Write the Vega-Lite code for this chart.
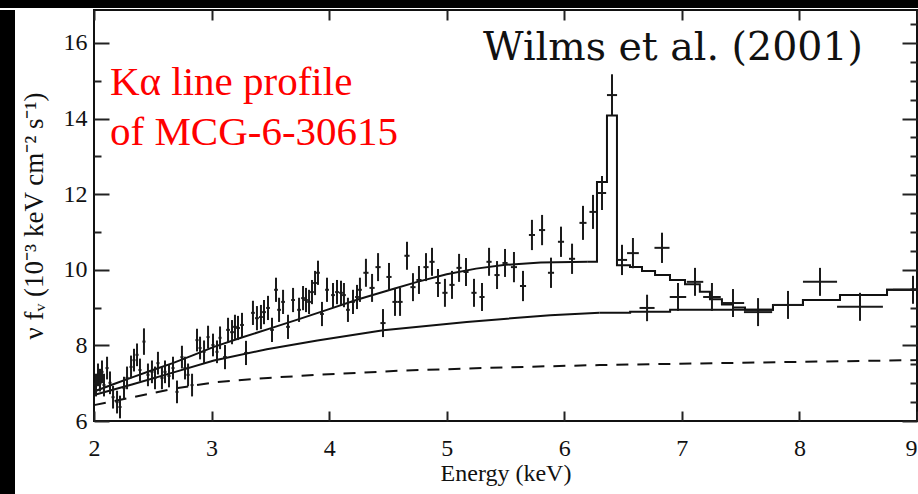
{
  "$schema": "https://vega.github.io/schema/vega-lite/v6.json",
  "padding": 0,
  "background": "white",
  "spacing": 2,
  "bounds": "flush",
  "config": {
    "view": {"stroke": null, "fill": "white"},
    "font": "Liberation Serif",
    "axis": {"grid": false, "domain": false, "tickColor": "#222", "tickWidth": 2, "labelColor": "#111", "titleColor": "#111", "labelFont": "Liberation Serif", "titleFont": "Liberation Serif", "titleFontWeight": "normal", "labelFontSize": 24, "titleFontSize": 25}
  },
  "datasets": {
    "dash": [
      {"E": 2.0, "F": 6.42}, {"E": 2.33, "F": 6.63}, {"E": 2.67, "F": 6.85}, {"E": 3.02, "F": 7.02},
      {"E": 3.48, "F": 7.14}, {"E": 3.9, "F": 7.22}, {"E": 4.6, "F": 7.33}, {"E": 5.5, "F": 7.42},
      {"E": 6.3, "F": 7.48}, {"E": 7.5, "F": 7.54}, {"E": 9.0, "F": 7.61}
    ],
    "contSmooth": [
      {"E": 2.0, "F": 6.69}, {"E": 2.33, "F": 6.97}, {"E": 2.67, "F": 7.28}, {"E": 3.02, "F": 7.6},
      {"E": 3.47, "F": 7.9}, {"E": 3.9, "F": 8.13}, {"E": 4.46, "F": 8.4}, {"E": 5.17, "F": 8.62},
      {"E": 5.88, "F": 8.8}, {"E": 6.3, "F": 8.86}
    ],
    "contStep": [
      {"E": 6.3, "F": 8.86}, {"E": 6.56, "F": 8.89}, {"E": 6.9, "F": 8.94}, {"E": 7.775, "F": 9.07},
      {"E": 8.03, "F": 9.2}, {"E": 8.345, "F": 9.33}, {"E": 8.745, "F": 9.47}, {"E": 9.0, "F": 9.47}
    ],
    "totSmooth": [
      {"E": 2.0, "F": 6.78}, {"E": 2.17, "F": 6.98}, {"E": 2.33, "F": 7.16}, {"E": 2.5, "F": 7.35},
      {"E": 2.67, "F": 7.53}, {"E": 2.85, "F": 7.75}, {"E": 3.02, "F": 7.96}, {"E": 3.25, "F": 8.2},
      {"E": 3.5, "F": 8.45}, {"E": 3.75, "F": 8.7}, {"E": 4.0, "F": 8.96}, {"E": 4.25, "F": 9.22},
      {"E": 4.5, "F": 9.45}, {"E": 4.75, "F": 9.68}, {"E": 5.0, "F": 9.88}, {"E": 5.25, "F": 10.03},
      {"E": 5.5, "F": 10.13}, {"E": 5.8, "F": 10.19}, {"E": 6.2, "F": 10.21}
    ],
    "totStep": [
      {"E": 6.2, "F": 10.21}, {"E": 6.278, "F": 12.32}, {"E": 6.363, "F": 14.08}, {"E": 6.448, "F": 10.12},
      {"E": 6.559, "F": 10.07}, {"E": 6.661, "F": 9.97}, {"E": 6.772, "F": 9.86}, {"E": 6.899, "F": 9.73},
      {"E": 7.027, "F": 9.62}, {"E": 7.153, "F": 9.42}, {"E": 7.239, "F": 9.22}, {"E": 7.341, "F": 9.08},
      {"E": 7.435, "F": 9.0}, {"E": 7.537, "F": 8.94}, {"E": 7.775, "F": 9.07}, {"E": 8.03, "F": 9.2},
      {"E": 8.345, "F": 9.33}, {"E": 8.745, "F": 9.47}, {"E": 9.0, "F": 9.47}
    ],
    "pts": [
      {"E": 2.017, "F": 6.95, "dE": 0.013, "dF": 0.3}, {"E": 2.034, "F": 7.22, "dE": 0.013, "dF": 0.3},
      {"E": 2.051, "F": 7.08, "dE": 0.013, "dF": 0.3}, {"E": 2.068, "F": 7.30, "dE": 0.013, "dF": 0.3},
      {"E": 2.085, "F": 6.95, "dE": 0.013, "dF": 0.3}, {"E": 2.111, "F": 7.40, "dE": 0.013, "dF": 0.3},
      {"E": 2.136, "F": 7.01, "dE": 0.013, "dF": 0.3}, {"E": 2.162, "F": 6.63, "dE": 0.013, "dF": 0.3},
      {"E": 2.196, "F": 6.50, "dE": 0.013, "dF": 0.3}, {"E": 2.221, "F": 6.37, "dE": 0.013, "dF": 0.3},
      {"E": 2.255, "F": 6.87, "dE": 0.013, "dF": 0.3}, {"E": 2.281, "F": 7.14, "dE": 0.013, "dF": 0.3},
      {"E": 2.315, "F": 7.43, "dE": 0.013, "dF": 0.3}, {"E": 2.340, "F": 7.61, "dE": 0.013, "dF": 0.3},
      {"E": 2.366, "F": 7.75, "dE": 0.013, "dF": 0.3}, {"E": 2.391, "F": 7.35, "dE": 0.013, "dF": 0.3},
      {"E": 2.425, "F": 8.10, "dE": 0.013, "dF": 0.35}, {"E": 2.459, "F": 7.22, "dE": 0.013, "dF": 0.3},
      {"E": 2.493, "F": 7.30, "dE": 0.013, "dF": 0.3}, {"E": 2.519, "F": 7.14, "dE": 0.013, "dF": 0.3},
      {"E": 2.544, "F": 7.53, "dE": 0.013, "dF": 0.3}, {"E": 2.578, "F": 7.14, "dE": 0.013, "dF": 0.3},
      {"E": 2.604, "F": 7.30, "dE": 0.013, "dF": 0.3}, {"E": 2.638, "F": 7.19, "dE": 0.013, "dF": 0.3},
      {"E": 2.672, "F": 7.40, "dE": 0.013, "dF": 0.3}, {"E": 2.706, "F": 6.77, "dE": 0.013, "dF": 0.3},
      {"E": 2.748, "F": 7.69, "dE": 0.013, "dF": 0.3}, {"E": 2.774, "F": 7.40, "dE": 0.013, "dF": 0.3},
      {"E": 2.800, "F": 7.22, "dE": 0.013, "dF": 0.3}, {"E": 2.834, "F": 6.95, "dE": 0.013, "dF": 0.3},
      {"E": 2.876, "F": 8.14, "dE": 0.013, "dF": 0.3}, {"E": 2.902, "F": 7.93, "dE": 0.013, "dF": 0.3},
      {"E": 2.936, "F": 7.83, "dE": 0.013, "dF": 0.3}, {"E": 2.970, "F": 8.22, "dE": 0.013, "dF": 0.3},
      {"E": 3.012, "F": 8.01, "dE": 0.013, "dF": 0.3}, {"E": 3.046, "F": 7.83, "dE": 0.013, "dF": 0.3},
      {"E": 3.072, "F": 8.20, "dE": 0.013, "dF": 0.3},
      {"E": 3.114, "F": 7.69, "dE": 0.016, "dF": 0.32}, {"E": 3.140, "F": 8.41, "dE": 0.016, "dF": 0.32},
      {"E": 3.174, "F": 8.35, "dE": 0.016, "dF": 0.32}, {"E": 3.199, "F": 8.49, "dE": 0.016, "dF": 0.32},
      {"E": 3.225, "F": 8.46, "dE": 0.016, "dF": 0.32}, {"E": 3.259, "F": 8.54, "dE": 0.016, "dF": 0.32},
      {"E": 3.293, "F": 7.80, "dE": 0.016, "dF": 0.32}, {"E": 3.352, "F": 8.86, "dE": 0.016, "dF": 0.32},
      {"E": 3.386, "F": 8.72, "dE": 0.016, "dF": 0.32}, {"E": 3.420, "F": 8.75, "dE": 0.016, "dF": 0.32},
      {"E": 3.446, "F": 8.88, "dE": 0.016, "dF": 0.32}, {"E": 3.480, "F": 8.99, "dE": 0.016, "dF": 0.32},
      {"E": 3.514, "F": 8.41, "dE": 0.016, "dF": 0.32}, {"E": 3.548, "F": 9.47, "dE": 0.016, "dF": 0.32},
      {"E": 3.574, "F": 8.94, "dE": 0.016, "dF": 0.32}, {"E": 3.608, "F": 9.15, "dE": 0.016, "dF": 0.32},
      {"E": 3.650, "F": 8.49, "dE": 0.016, "dF": 0.32}, {"E": 3.693, "F": 9.20, "dE": 0.016, "dF": 0.32},
      {"E": 3.744, "F": 8.94, "dE": 0.016, "dF": 0.32}, {"E": 3.778, "F": 9.25, "dE": 0.016, "dF": 0.32},
      {"E": 3.803, "F": 9.20, "dE": 0.016, "dF": 0.32}, {"E": 3.829, "F": 9.15, "dE": 0.016, "dF": 0.32},
      {"E": 3.854, "F": 9.41, "dE": 0.016, "dF": 0.32}, {"E": 3.880, "F": 9.65, "dE": 0.016, "dF": 0.32},
      {"E": 3.905, "F": 9.92, "dE": 0.016, "dF": 0.32}, {"E": 3.939, "F": 8.83, "dE": 0.016, "dF": 0.32},
      {"E": 3.982, "F": 9.47, "dE": 0.016, "dF": 0.32}, {"E": 4.033, "F": 9.33, "dE": 0.016, "dF": 0.32},
      {"E": 4.067, "F": 9.41, "dE": 0.016, "dF": 0.32}, {"E": 4.101, "F": 9.39, "dE": 0.016, "dF": 0.32},
      {"E": 4.126, "F": 9.33, "dE": 0.016, "dF": 0.32}, {"E": 4.160, "F": 8.94, "dE": 0.016, "dF": 0.32},
      {"E": 4.203, "F": 9.15, "dE": 0.016, "dF": 0.32}, {"E": 4.237, "F": 9.28, "dE": 0.016, "dF": 0.32},
      {"E": 4.262, "F": 9.47, "dE": 0.016, "dF": 0.32},
      {"E": 4.313, "F": 9.92, "dE": 0.022, "dF": 0.37}, {"E": 4.365, "F": 9.52, "dE": 0.022, "dF": 0.37},
      {"E": 4.416, "F": 10.07, "dE": 0.022, "dF": 0.37}, {"E": 4.458, "F": 8.59, "dE": 0.022, "dF": 0.37},
      {"E": 4.509, "F": 9.81, "dE": 0.022, "dF": 0.37}, {"E": 4.560, "F": 9.15, "dE": 0.022, "dF": 0.37},
      {"E": 4.603, "F": 9.15, "dE": 0.022, "dF": 0.37}, {"E": 4.662, "F": 10.37, "dE": 0.022, "dF": 0.37},
      {"E": 4.713, "F": 9.54, "dE": 0.022, "dF": 0.37}, {"E": 4.764, "F": 9.73, "dE": 0.022, "dF": 0.37},
      {"E": 4.824, "F": 10.07, "dE": 0.022, "dF": 0.37}, {"E": 4.875, "F": 10.21, "dE": 0.022, "dF": 0.37},
      {"E": 4.926, "F": 9.65, "dE": 0.022, "dF": 0.37}, {"E": 4.985, "F": 9.39, "dE": 0.022, "dF": 0.37},
      {"E": 5.045, "F": 9.60, "dE": 0.022, "dF": 0.37}, {"E": 5.105, "F": 10.05, "dE": 0.022, "dF": 0.37},
      {"E": 5.164, "F": 9.94, "dE": 0.022, "dF": 0.37}, {"E": 5.232, "F": 9.39, "dE": 0.022, "dF": 0.37},
      {"E": 5.300, "F": 9.28, "dE": 0.022, "dF": 0.37}, {"E": 5.360, "F": 10.21, "dE": 0.022, "dF": 0.37},
      {"E": 5.428, "F": 9.86, "dE": 0.022, "dF": 0.37}, {"E": 5.496, "F": 10.18, "dE": 0.022, "dF": 0.37},
      {"E": 5.572, "F": 10.07, "dE": 0.026, "dF": 0.4}, {"E": 5.649, "F": 9.57, "dE": 0.026, "dF": 0.4},
      {"E": 5.725, "F": 10.92, "dE": 0.026, "dF": 0.4}, {"E": 5.811, "F": 11.05, "dE": 0.026, "dF": 0.4},
      {"E": 5.887, "F": 9.92, "dE": 0.026, "dF": 0.4}, {"E": 5.972, "F": 10.74, "dE": 0.026, "dF": 0.4},
      {"E": 6.066, "F": 10.29, "dE": 0.026, "dF": 0.4}, {"E": 6.159, "F": 11.24, "dE": 0.03, "dF": 0.45},
      {"E": 6.244, "F": 11.53, "dE": 0.03, "dF": 0.45}, {"E": 6.321, "F": 12.03, "dE": 0.035, "dF": 0.45},
      {"E": 6.406, "F": 14.62, "dE": 0.043, "dF": 0.55}, {"E": 6.491, "F": 10.26, "dE": 0.043, "dF": 0.4},
      {"E": 6.584, "F": 10.44, "dE": 0.05, "dF": 0.4}, {"E": 6.704, "F": 8.99, "dE": 0.064, "dF": 0.35},
      {"E": 6.831, "F": 10.58, "dE": 0.064, "dF": 0.4}, {"E": 6.967, "F": 9.28, "dE": 0.07, "dF": 0.37},
      {"E": 7.112, "F": 9.68, "dE": 0.07, "dF": 0.37}, {"E": 7.256, "F": 9.28, "dE": 0.075, "dF": 0.37},
      {"E": 7.435, "F": 9.12, "dE": 0.095, "dF": 0.37}, {"E": 7.648, "F": 8.88, "dE": 0.12, "dF": 0.37},
      {"E": 7.903, "F": 9.07, "dE": 0.13, "dF": 0.37}, {"E": 8.175, "F": 9.68, "dE": 0.145, "dF": 0.37},
      {"E": 8.515, "F": 9.02, "dE": 0.195, "dF": 0.37}, {"E": 8.966, "F": 9.47, "dE": 0.17, "dF": 0.37}
    ]
  },
  "vconcat": [
    {
      "width": 918,
      "height": 8,
      "view": {"fill": "black", "stroke": null},
      "data": {"values": []},
      "mark": "rect"
    },
    {
      "spacing": 79,
      "bounds": "flush",
      "hconcat": [
        {
          "width": 15,
          "height": 484,
          "view": {"fill": "black", "stroke": null},
          "data": {"values": []},
          "mark": "rect"
        },
        {
          "width": 823,
          "height": 411,
          "view": {"stroke": "#111", "strokeWidth": 2, "fill": "white"},
          "layer": [
            {
              "data": {"name": "dash"},
              "mark": {"type": "line", "color": "#111", "strokeWidth": 2, "strokeDash": [12, 9]},
              "encoding": {
                "x": {"field": "E", "type": "quantitative", "scale": {"domain": [2, 9], "nice": false, "zero": false, "clamp": true},
                  "axis": {"orient": "bottom", "values": [2, 3, 4, 5, 6, 7, 8, 9], "format": "d", "tickSize": -10, "labelPadding": 25,
                    "labelAlign": {"condition": {"test": "datum.value == 9", "value": "right"}, "value": "center"},
                    "title": "Energy (keV)", "titleFontSize": 24, "titlePadding": 1}},
                "y": {"field": "F", "type": "quantitative", "scale": {"domain": [6, 16.87], "nice": false, "zero": false, "clamp": true},
                  "axis": {"orient": "left", "values": [6, 6.5, 7, 7.5, 8, 8.5, 9, 9.5, 10, 10.5, 11, 11.5, 12, 12.5, 13, 13.5, 14, 14.5, 15, 15.5, 16, 16.5],
                    "format": "d", "labelExpr": "datum.value % 2 == 0 ? datum.label : ''",
                    "tickSize": {"condition": {"test": "datum.value % 2 == 0", "value": -15}, "value": -7},
                    "labelPadding": 22, "title": "ν fᵥ (10⁻³ keV cm⁻² s⁻¹)", "titleFontSize": 27, "titlePadding": 15}}
              }
            },
            {
              "data": {"name": "contSmooth"},
              "mark": {"type": "line", "color": "#111", "strokeWidth": 2},
              "encoding": {
                "x": {"field": "E", "type": "quantitative",
                  "axis": {"orient": "top", "values": [2, 3, 4, 5, 6, 7, 8, 9], "labels": false, "tickSize": -10, "title": null}},
                "y": {"field": "F", "type": "quantitative",
                  "axis": {"orient": "right", "values": [6, 6.5, 7, 7.5, 8, 8.5, 9, 9.5, 10, 10.5, 11, 11.5, 12, 12.5, 13, 13.5, 14, 14.5, 15, 15.5, 16, 16.5],
                    "labels": false, "tickSize": {"condition": {"test": "datum.value % 2 == 0", "value": -15}, "value": -7}, "title": null}}
              }
            },
            {
              "data": {"name": "contStep"},
              "mark": {"type": "line", "color": "#111", "strokeWidth": 2, "interpolate": "step-after"},
              "encoding": {
                "x": {"field": "E", "type": "quantitative", "axis": null},
                "y": {"field": "F", "type": "quantitative", "axis": null}
              }
            },
            {
              "data": {"name": "totSmooth"},
              "mark": {"type": "line", "color": "#111", "strokeWidth": 2},
              "encoding": {
                "x": {"field": "E", "type": "quantitative", "axis": null},
                "y": {"field": "F", "type": "quantitative", "axis": null}
              }
            },
            {
              "data": {"name": "totStep"},
              "mark": {"type": "line", "color": "#111", "strokeWidth": 2, "interpolate": "step-after"},
              "encoding": {
                "x": {"field": "E", "type": "quantitative", "axis": null},
                "y": {"field": "F", "type": "quantitative", "axis": null}
              }
            },
            {
              "data": {"name": "pts"},
              "mark": {"type": "errorbar", "color": "#1a1a1a", "thickness": 2},
              "encoding": {
                "x": {"field": "E", "type": "quantitative", "axis": null},
                "y": {"field": "F", "type": "quantitative", "axis": null},
                "yError": {"field": "dF"}
              }
            },
            {
              "data": {"name": "pts"},
              "mark": {"type": "errorbar", "color": "#1a1a1a", "thickness": 2},
              "encoding": {
                "x": {"field": "E", "type": "quantitative", "axis": null},
                "xError": {"field": "dE"},
                "y": {"field": "F", "type": "quantitative", "axis": null}
              }
            },
            {
              "data": {"values": [{"E": 2.136, "F": 14.62, "t": "Kα line profile"}, {"E": 2.136, "F": 13.3, "t": "of MCG-6-30615"}]},
              "mark": {"type": "text", "color": "#ff0000", "font": "Liberation Serif", "fontSize": 41, "align": "left", "baseline": "alphabetic"},
              "encoding": {
                "x": {"field": "E", "type": "quantitative", "axis": null},
                "y": {"field": "F", "type": "quantitative", "axis": null},
                "text": {"field": "t"}
              }
            },
            {
              "data": {"values": [{"E": 5.309, "F": 15.55, "t": "Wilms et al. (2001)"}]},
              "mark": {"type": "text", "color": "#111", "font": "DejaVu Serif", "fontSize": 39.5, "align": "left", "baseline": "alphabetic"},
              "encoding": {
                "x": {"field": "E", "type": "quantitative", "axis": null},
                "y": {"field": "F", "type": "quantitative", "axis": null},
                "text": {"field": "t"}
              }
            }
          ],
          "resolve": {"axis": {"x": "independent", "y": "independent"}}
        }
      ]
    }
  ]
}
